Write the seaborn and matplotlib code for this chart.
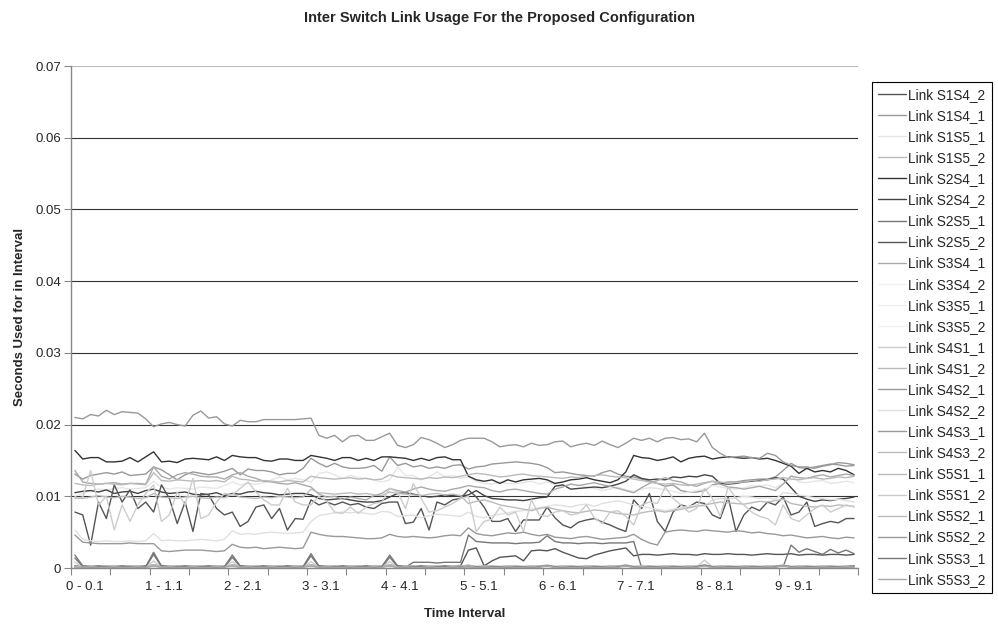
import numpy as np
import pandas as pd
import seaborn as sns
import matplotlib.pyplot as plt

# Values in units of 0.0001 seconds
S1S4_2 = [3, 2, 2, 3, 2, 2, 3, 2, 2, 3, 4, 3, 2, 2, 3, 2, 2, 3, 2, 2, 4, 3, 2, 2, 3,
          2, 2, 3, 2, 2, 4, 3, 2, 2, 3, 2, 2, 3, 2, 2, 4, 3, 2, 2, 3, 2, 2, 3, 2, 3,
          25, 28, 3, 10, 15, 16, 17, 10, 24, 25, 24, 27, 22, 18, 14, 13, 18, 21, 24, 26, 28, 17, 19, 19, 18,
          19, 20, 19, 19, 18, 20, 19, 19, 20, 19, 19, 18, 19, 20, 19, 19, 20, 18, 19, 19, 18, 19, 19, 18, 19]
S1S4_1 = [131, 124, 129, 131, 133, 131, 134, 129, 130, 131, 141, 137, 130, 123, 130, 134, 132, 130, 132, 135, 139, 130, 138, 136, 136,
          134, 130, 132, 132, 139, 153, 146, 141, 146, 141, 139, 139, 140, 143, 135, 155, 143, 146, 141, 143, 139, 141, 139, 143, 144,
          138, 141, 142, 145, 146, 147, 148, 147, 146, 144, 140, 133, 134, 132, 130, 129, 128, 133, 136, 131, 128, 127, 124, 121, 118,
          114, 116, 108, 106, 106, 108, 116, 118, 120, 120, 122, 123, 124, 124, 127, 136, 146, 140, 139, 141, 143, 145, 144, 142, 143]
S1S5_1 = [100, 104, 108, 110, 109, 111, 112, 110, 111, 112, 121, 113, 110, 112, 111, 110, 113, 112, 111, 115, 120, 116, 118, 117, 119,
          123, 127, 123, 125, 123, 120, 132, 134, 130, 125, 129, 126, 125, 123, 120, 123, 141, 129, 129, 123, 127, 134, 127, 129, 125,
          127, 121, 118, 117, 120, 118, 117, 119, 121, 117, 120, 116, 114, 117, 116, 113, 111, 108, 110, 113, 109, 107, 110, 112, 111,
          109, 107, 104, 106, 108, 110, 115, 113, 111, 110, 112, 115, 114, 116, 112, 118, 129, 120, 119, 121, 122, 118, 119, 121, 119]
S1S5_2 = [2, 1, 1, 2, 1, 1, 2, 1, 1, 2, 3, 1, 1, 2, 1, 1, 2, 1, 1, 2, 3, 1, 1, 2, 1,
          1, 2, 1, 1, 2, 3, 1, 1, 2, 1, 1, 2, 1, 1, 2, 3, 1, 1, 2, 1, 1, 2, 1, 1, 2,
          3, 1, 1, 2, 1, 1, 2, 1, 1, 2, 3, 1, 1, 2, 1, 1, 2, 1, 1, 2, 3, 1, 1, 2, 1,
          1, 2, 1, 1, 2, 3, 1, 1, 2, 1, 1, 2, 1, 1, 2, 3, 1, 1, 2, 1, 1, 2, 1, 1, 2]
S2S4_1 = [164, 152, 154, 154, 148, 148, 149, 154, 148, 155, 162, 148, 149, 147, 152, 153, 152, 151, 155, 150, 157, 155, 154, 154, 150,
          149, 152, 152, 150, 150, 157, 155, 153, 150, 154, 154, 150, 153, 150, 155, 155, 154, 153, 150, 153, 150, 154, 155, 151, 151,
          128, 123, 121, 123, 118, 123, 120, 123, 124, 125, 123, 118, 120, 123, 124, 126, 123, 121, 119, 123, 134, 157, 154, 153, 150,
          152, 155, 148, 153, 155, 156, 152, 154, 155, 154, 153, 154, 152, 153, 150, 146, 142, 132, 139, 134, 136, 134, 139, 136, 130]
S2S4_2 = [105, 107, 108, 106, 109, 104, 106, 107, 104, 108, 110, 106, 104, 105, 106, 103, 102, 103, 105, 101, 104, 103, 106, 107, 105,
          104, 102, 103, 104, 104, 102, 97, 95, 96, 97, 95, 93, 92, 92, 94, 99, 104, 105, 103, 101, 99, 100, 102, 101, 100,
          102, 108, 101, 97, 96, 95, 95, 94, 96, 98, 99, 114, 116, 110, 111, 112, 113, 112, 114, 117, 121, 130, 125, 123, 124,
          123, 127, 126, 128, 127, 130, 128, 118, 117, 118, 120, 121, 122, 123, 126, 124, 112, 100, 96, 93, 95, 94, 96, 97, 99]
S2S5_1 = [14, 2, 1, 1, 1, 1, 1, 1, 1, 1, 19, 2, 1, 1, 1, 1, 1, 1, 1, 1, 15, 2, 1, 1, 1,
          1, 1, 1, 1, 1, 17, 2, 1, 1, 1, 1, 1, 1, 1, 1, 15, 2, 1, 8, 8, 8, 7, 8, 8, 8,
          46, 37, 36, 35, 35, 35, 34, 35, 35, 36, 45, 37, 35, 35, 34, 35, 35, 34, 35, 35, 35, 37, 1, 1, 1,
          1, 1, 1, 1, 1, 2, 1, 1, 1, 1, 1, 1, 1, 1, 1, 2, 32, 22, 27, 23, 19, 26, 21, 25, 20]
S2S5_2 = [78, 74, 32, 92, 69, 116, 92, 109, 83, 92, 78, 116, 97, 62, 92, 51, 104, 102, 83, 74, 78, 58, 65, 85, 88,
          69, 83, 53, 69, 68, 95, 88, 92, 88, 92, 88, 90, 85, 83, 90, 92, 92, 62, 64, 83, 53, 92, 88, 95, 97,
          109, 99, 85, 65, 65, 69, 51, 67, 67, 67, 85, 70, 60, 56, 64, 67, 69, 64, 60, 55, 51, 95, 83, 104, 65,
          51, 78, 88, 85, 92, 90, 74, 69, 99, 51, 74, 85, 80, 92, 88, 99, 74, 78, 92, 58, 62, 65, 63, 69, 69]
S3S4_1 = [136, 120, 118, 117, 118, 119, 117, 118, 118, 117, 141, 128, 124, 130, 133, 131, 128, 127, 127, 124, 130, 133, 128, 125, 121,
          120, 118, 117, 119, 116, 113, 103, 99, 100, 96, 99, 97, 95, 101, 104, 111, 108, 106, 110, 113, 110, 108, 107, 110, 112,
          115, 113, 112, 108, 106, 109, 110, 108, 106, 104, 103, 110, 113, 117, 115, 117, 119, 116, 114, 111, 108, 105, 112, 118, 122,
          126, 122, 120, 116, 114, 118, 121, 117, 113, 112, 110, 112, 114, 111, 108, 117, 128, 126, 125, 128, 130, 127, 129, 131, 129]
S3S4_2 = [1, 0, 0, 1, 0, 0, 1, 0, 0, 1, 1, 0, 0, 1, 0, 0, 1, 0, 0, 1, 1, 0, 0, 1, 0,
          0, 1, 0, 0, 1, 1, 0, 0, 1, 0, 0, 1, 0, 0, 1, 1, 0, 0, 1, 0, 0, 1, 0, 0, 1,
          1, 0, 0, 1, 0, 0, 1, 0, 0, 1, 1, 0, 0, 1, 0, 0, 1, 0, 0, 1, 1, 0, 0, 1, 0,
          0, 1, 0, 0, 1, 1, 0, 0, 1, 0, 0, 1, 0, 0, 1, 1, 0, 0, 1, 0, 0, 1, 0, 0, 1]
S3S5_1 = [0, 1, 0, 0, 1, 0, 0, 1, 0, 0, 2, 0, 1, 0, 0, 1, 0, 0, 1, 0, 2, 0, 1, 0, 0,
          1, 0, 0, 1, 0, 2, 0, 1, 0, 0, 1, 0, 0, 1, 0, 2, 0, 1, 0, 0, 1, 0, 0, 1, 0,
          2, 0, 1, 0, 0, 1, 0, 0, 1, 0, 2, 0, 1, 0, 0, 1, 0, 0, 1, 0, 2, 0, 1, 0, 0,
          1, 0, 0, 1, 0, 2, 0, 1, 0, 0, 1, 0, 0, 1, 0, 2, 0, 1, 0, 0, 1, 0, 0, 1, 0]
S3S5_2 = [1, 1, 0, 1, 1, 0, 1, 1, 0, 1, 2, 1, 0, 1, 1, 0, 1, 1, 0, 1, 2, 1, 0, 1, 1,
          0, 1, 1, 0, 1, 2, 1, 0, 1, 1, 0, 1, 1, 0, 1, 2, 1, 0, 1, 1, 0, 1, 1, 0, 1,
          2, 1, 0, 1, 1, 0, 1, 1, 0, 1, 2, 1, 0, 1, 1, 0, 1, 1, 0, 1, 2, 1, 0, 1, 1,
          0, 1, 1, 0, 1, 2, 1, 0, 1, 1, 0, 1, 1, 0, 1, 2, 1, 0, 1, 1, 0, 1, 1, 0, 1]
S4S1_1 = [8, 1, 1, 1, 1, 1, 1, 1, 1, 1, 10, 1, 1, 1, 1, 1, 1, 1, 1, 1, 9, 1, 1, 1, 1,
          1, 1, 1, 1, 1, 9, 1, 1, 1, 1, 1, 1, 1, 1, 1, 9, 1, 1, 1, 1, 1, 1, 1, 1, 1,
          1, 1, 1, 1, 1, 1, 1, 1, 1, 1, 4, 1, 1, 1, 1, 1, 1, 1, 1, 1, 5, 1, 1, 1, 1,
          1, 1, 1, 1, 1, 11, 1, 1, 1, 1, 1, 1, 1, 1, 1, 4, 1, 1, 1, 1, 1, 1, 1, 1, 1]
S4S1_2 = [2, 2, 3, 2, 2, 3, 2, 2, 3, 2, 4, 2, 3, 2, 2, 3, 2, 2, 3, 2, 4, 2, 3, 2, 2,
          3, 2, 2, 3, 2, 4, 2, 3, 2, 2, 3, 2, 2, 3, 2, 4, 2, 3, 2, 2, 3, 2, 2, 3, 2,
          4, 2, 3, 2, 2, 3, 2, 2, 3, 2, 4, 2, 3, 2, 2, 3, 2, 2, 3, 2, 4, 2, 3, 2, 2,
          3, 2, 2, 3, 2, 4, 2, 3, 2, 2, 3, 2, 2, 3, 2, 4, 2, 3, 2, 2, 3, 2, 2, 3, 2]
S4S2_1 = [1, 2, 1, 1, 2, 1, 1, 2, 1, 1, 3, 1, 1, 2, 1, 1, 2, 1, 1, 2, 3, 1, 1, 2, 1,
          1, 2, 1, 1, 2, 3, 1, 1, 2, 1, 1, 2, 1, 1, 2, 3, 1, 1, 2, 1, 1, 2, 1, 1, 2,
          3, 1, 1, 2, 1, 1, 2, 1, 1, 2, 3, 1, 1, 2, 1, 1, 2, 1, 1, 2, 3, 1, 1, 2, 1,
          1, 2, 1, 1, 2, 3, 1, 1, 2, 1, 1, 2, 1, 1, 2, 3, 1, 1, 2, 1, 1, 2, 1, 1, 2]
S4S2_2 = [53, 40, 38, 37, 38, 37, 37, 38, 37, 38, 48, 38, 39, 38, 38, 39, 40, 39, 38, 40, 52, 47, 48, 47, 49,
          50, 49, 48, 49, 50, 65, 73, 75, 77, 78, 77, 78, 76, 75, 79, 78, 72, 73, 74, 70, 73, 75, 74, 73, 72,
          78, 72, 70, 73, 75, 77, 79, 80, 82, 84, 86, 88, 87, 85, 88, 89, 86, 90, 92, 94, 91, 88, 86, 84, 82,
          80, 82, 84, 86, 88, 86, 95, 97, 96, 98, 100, 99, 97, 98, 96, 105, 104, 102, 100, 98, 97, 95, 96, 94, 92]
S4S3_1 = [210, 208, 214, 212, 220, 214, 218, 217, 216, 208, 197, 201, 203, 200, 198, 213, 219, 209, 211, 201, 198, 206, 204, 204, 207,
          207, 207, 207, 207, 208, 209, 185, 181, 185, 176, 184, 185, 178, 178, 183, 188, 171, 168, 172, 182, 179, 174, 168, 172, 178,
          181, 181, 181, 176, 169, 171, 172, 169, 174, 171, 172, 176, 177, 169, 172, 174, 171, 177, 172, 168, 174, 181, 178, 181, 176,
          181, 182, 179, 180, 176, 188, 168, 160, 154, 155, 156, 154, 153, 160, 157, 148, 143, 141, 141, 139, 142, 144, 147, 146, 144]
S4S3_2 = [118, 116, 115, 117, 118, 117, 116, 118, 117, 116, 133, 122, 121, 123, 122, 121, 122, 121, 122, 120, 128, 124, 123, 121, 122,
          121, 120, 122, 121, 120, 128, 126, 125, 124, 125, 126, 124, 125, 123, 124, 130, 127, 126, 125, 124, 126, 125, 127, 126, 128,
          130, 132, 131, 129, 127, 128, 130, 131, 129, 128, 127, 126, 125, 127, 126, 128, 129, 130, 128, 127, 126, 124, 122, 120, 118,
          117, 118, 116, 115, 117, 119, 121, 120, 118, 119, 120, 122, 121, 123, 124, 126, 124, 123, 125, 126, 124, 125, 127, 126, 128]
S5S1_1 = [98, 97, 99, 101, 99, 98, 100, 99, 97, 98, 104, 99, 98, 97, 99, 100, 98, 97, 99, 98, 103, 99, 98, 97, 99,
          98, 100, 99, 98, 99, 110, 105, 104, 103, 104, 105, 103, 104, 102, 101, 106, 104, 103, 102, 101, 103, 104, 102, 103, 101,
          90, 93, 95, 92, 88, 86, 84, 82, 80, 83, 85, 82, 80, 78, 77, 79, 81, 80, 78, 76, 75, 74, 77, 79, 80,
          78, 80, 82, 84, 86, 88, 90, 92, 91, 90, 89, 91, 93, 92, 94, 96, 90, 88, 86, 85, 87, 86, 88, 87, 86]
S5S1_2 = [97, 99, 136, 88, 100, 53, 88, 65, 88, 104, 116, 65, 74, 106, 88, 125, 69, 74, 92, 104, 102, 111, 120, 106, 95,
          88, 88, 111, 92, 88, 88, 100, 93, 78, 76, 85, 76, 85, 90, 92, 111, 106, 83, 118, 97, 78, 80, 85, 90, 97,
          100, 51, 65, 68, 85, 74, 78, 51, 95, 74, 72, 78, 80, 74, 76, 88, 70, 62, 78, 80, 72, 60, 88, 92, 90,
          113, 97, 88, 78, 83, 111, 97, 72, 113, 97, 88, 78, 72, 69, 60, 88, 69, 65, 74, 83, 88, 78, 83, 88, 85]
S5S2_1 = [2, 3, 2, 2, 3, 2, 2, 3, 2, 2, 4, 2, 2, 3, 2, 2, 3, 2, 2, 3, 4, 2, 2, 3, 2,
          2, 3, 2, 2, 3, 4, 2, 2, 3, 2, 2, 3, 2, 2, 3, 4, 2, 2, 3, 2, 2, 3, 2, 2, 3,
          4, 2, 2, 3, 2, 2, 3, 2, 2, 3, 4, 2, 2, 3, 2, 2, 3, 2, 2, 3, 4, 2, 2, 3, 2,
          2, 3, 2, 2, 3, 4, 2, 2, 3, 2, 2, 3, 2, 2, 3, 4, 2, 2, 3, 2, 2, 3, 2, 2, 3]
S5S2_2 = [46, 36, 35, 34, 34, 34, 34, 35, 34, 34, 34, 24, 23, 24, 25, 25, 25, 24, 23, 24, 33, 29, 28, 29, 27,
          28, 29, 28, 27, 28, 50, 47, 45, 44, 44, 43, 42, 41, 41, 42, 47, 44, 43, 44, 43, 42, 43, 45, 46, 45,
          56, 48, 46, 45, 47, 49, 48, 50, 47, 45, 47, 43, 42, 41, 43, 44, 42, 40, 41, 42, 43, 47, 40, 35, 32,
          50, 52, 53, 52, 51, 53, 52, 51, 50, 52, 51, 49, 50, 48, 47, 45, 46, 44, 42, 43, 44, 42, 41, 43, 42]
S5S3_1 = [18, 3, 2, 2, 2, 2, 2, 2, 2, 2, 22, 3, 2, 2, 2, 2, 2, 2, 2, 2, 18, 3, 2, 2, 2,
          2, 2, 2, 2, 2, 20, 3, 2, 2, 2, 2, 2, 2, 2, 2, 18, 3, 2, 2, 2, 2, 2, 2, 2, 2,
          2, 2, 2, 2, 2, 2, 2, 2, 2, 2, 3, 2, 2, 2, 2, 2, 2, 2, 2, 2, 3, 2, 2, 2, 2,
          2, 2, 2, 2, 2, 4, 2, 2, 2, 2, 2, 2, 2, 2, 2, 3, 2, 2, 2, 2, 2, 2, 2, 2, 3]
S5S3_2 = [1, 1, 2, 1, 1, 2, 1, 1, 2, 1, 3, 1, 2, 1, 1, 2, 1, 1, 2, 1, 3, 1, 2, 1, 1,
          2, 1, 1, 2, 1, 3, 1, 2, 1, 1, 2, 1, 1, 2, 1, 3, 1, 2, 1, 1, 2, 1, 1, 2, 1,
          3, 1, 2, 1, 1, 2, 1, 1, 2, 1, 3, 1, 2, 1, 1, 2, 1, 1, 2, 1, 3, 1, 2, 1, 1,
          2, 1, 1, 2, 1, 3, 1, 2, 1, 1, 2, 1, 1, 2, 1, 3, 1, 2, 1, 1, 2, 1, 1, 2, 1]

series = {
    'Link S1S4_2': (S1S4_2, '#555555'),
    'Link S1S4_1': (S1S4_1, '#999999'),
    'Link S1S5_1': (S1S5_1, '#e6e6e6'),
    'Link S1S5_2': (S1S5_2, '#bbbbbb'),
    'Link S2S4_1': (S2S4_1, '#333333'),
    'Link S2S4_2': (S2S4_2, '#444444'),
    'Link S2S5_1': (S2S5_1, '#777777'),
    'Link S2S5_2': (S2S5_2, '#555555'),
    'Link S3S4_1': (S3S4_1, '#aaaaaa'),
    'Link S3S4_2': (S3S4_2, '#f2f2f2'),
    'Link S3S5_1': (S3S5_1, '#eeeeee'),
    'Link S3S5_2': (S3S5_2, '#f2f2f2'),
    'Link S4S1_1': (S4S1_1, '#cccccc'),
    'Link S4S1_2': (S4S1_2, '#bbbbbb'),
    'Link S4S2_1': (S4S2_1, '#999999'),
    'Link S4S2_2': (S4S2_2, '#e0e0e0'),
    'Link S4S3_1': (S4S3_1, '#999999'),
    'Link S4S3_2': (S4S3_2, '#bbbbbb'),
    'Link S5S1_1': (S5S1_1, '#bbbbbb'),
    'Link S5S1_2': (S5S1_2, '#cccccc'),
    'Link S5S2_1': (S5S2_1, '#bbbbbb'),
    'Link S5S2_2': (S5S2_2, '#999999'),
    'Link S5S3_1': (S5S3_1, '#777777'),
    'Link S5S3_2': (S5S3_2, '#aaaaaa'),
}

tick_labels = ['0 - 0.1', '1 - 1.1', '2 - 2.1', '3 - 3.1', '4 - 4.1',
               '5 - 5.1', '6 - 6.1', '7 - 7.1', '8 - 8.1', '9 - 9.1']
y_labels = ['0', '0.01', '0.02', '0.03', '0.04', '0.05', '0.06', '0.07']

# long-form table for seaborn
rows = []
for name, (vals, _) in series.items():
    for i, v in enumerate(vals):
        rows.append({'Interval': i, 'Seconds': v / 10000.0, 'Link': name})
df = pd.DataFrame(rows)
palette = {name: c for name, (_, c) in series.items()}
names = list(series.keys())

sns.set_style('white')
plt.rcParams['font.family'] = ['Liberation Sans', 'DejaVu Sans']

fig = plt.figure(figsize=(9.98, 6.24), dpi=100)
ax = fig.add_axes([0.0711, 0.0897, 0.7886, 0.8045])

sns.lineplot(data=df, x='Interval', y='Seconds', hue='Link', hue_order=names,
             palette=palette, linewidth=1.0, estimator=None, ax=ax)

ax.set_xlim(-0.5, 99.5)
ax.set_ylim(0, 0.07)

# y axis
ax.set_yticks(np.arange(0, 0.0701, 0.01))
ax.set_yticklabels(y_labels, fontsize=9.5)
ax.yaxis.grid(True, color='#333333', linewidth=0.8)
gl = ax.get_ygridlines()
gl[-1].set_color('#bbbbbb')
ax.set_axisbelow(True)
ax.tick_params(axis='y', length=5, width=0.8, color='#888888', pad=2, direction='out', left=True)

# x axis: labels every 10 intervals, marks every 5
ax.set_xticks([i * 10 + 1.3 for i in range(10)])
ax.set_xticklabels(tick_labels, fontsize=9.5)
ax.set_xticks(np.arange(-0.5, 100, 5), minor=True)
ax.tick_params(axis='x', which='major', length=0, pad=9)
ax.tick_params(axis='x', which='minor', length=5, width=0.8, color='#888888', direction='out', bottom=True)

for s in ['top', 'right']:
    ax.spines[s].set_visible(False)
for s in ['left', 'bottom']:
    ax.spines[s].set_color('#888888')
    ax.spines[s].set_linewidth(1.0)

ax.set_xlabel('Time Interval', fontsize=9.5, fontweight='bold', labelpad=11)
ax.set_ylabel('Seconds Used for in Interval', fontsize=9.5, fontweight='bold', labelpad=7)

fig.text(0.5, 1 - 18 / 624, 'Inter Switch Link Usage For the Proposed Configuration',
         ha='center', va='center', fontsize=10.5, fontweight='bold')

leg = ax.legend(loc='upper left', bbox_to_anchor=(0.874, 0.869), bbox_transform=fig.transFigure,
                borderaxespad=0, fontsize=9.8, frameon=True, fancybox=False, framealpha=1,
                edgecolor='black', handlelength=2.0, handletextpad=0.2, labelspacing=0.52,
                borderpad=0.45, title=None)
leg.get_frame().set_linewidth(0.8)

fig.savefig('out.png', dpi=100)
